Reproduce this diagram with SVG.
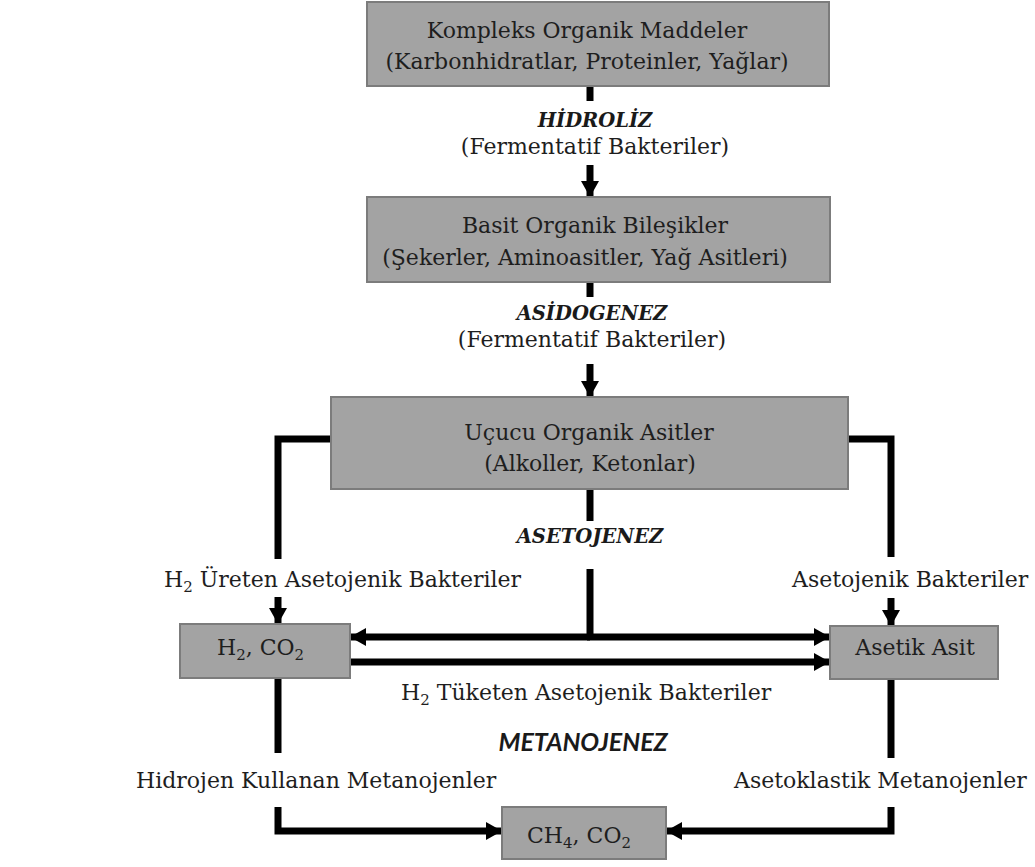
<svg xmlns="http://www.w3.org/2000/svg" width="1035" height="867" viewBox="0 0 1035 867">
<style>
.box{fill:#a3a3a3;stroke:#7c7c7c;stroke-width:2}
.t{font-family:"DejaVu Serif","Liberation Serif",serif;font-size:22px;fill:#1e1e1e}
.h{font-family:"DejaVu Serif","Liberation Serif",serif;font-size:19.5px;font-weight:bold;font-style:italic;fill:#1a1a1a}
.hs{font-family:Lato,"Open Sans",sans-serif;font-size:25px;font-weight:bold;font-style:italic;fill:#1a1a1a}
.c{text-anchor:middle}
.ln{fill:none;stroke:#000;stroke-width:7;stroke-linejoin:miter;stroke-linecap:butt}
.sub{font-size:15px}
</style>
<defs>
<marker id="ah" markerUnits="userSpaceOnUse" markerWidth="18" markerHeight="20" refX="16" refY="10" orient="auto">
<path d="M0,1 L16,10 L0,19 Z" fill="#000"/>
</marker>
</defs>
<g id="connectors">
<line class="ln" x1="590" y1="86" x2="590" y2="101"/>
<line class="ln" x1="590" y1="165" x2="590" y2="197" marker-end="url(#ah)"/>
<line class="ln" x1="590" y1="282" x2="590" y2="297"/>
<line class="ln" x1="590" y1="364" x2="590" y2="397" marker-end="url(#ah)"/>
<polyline class="ln" points="331,439 278,439 278,559"/>
<line class="ln" x1="278" y1="597" x2="278" y2="624" marker-end="url(#ah)"/>
<polyline class="ln" points="848,439 891,439 891,557"/>
<line class="ln" x1="891" y1="598" x2="891" y2="626" marker-end="url(#ah)"/>
<line class="ln" x1="590" y1="489" x2="590" y2="521"/>
<line class="ln" x1="590" y1="569" x2="590" y2="637"/>
<line class="ln" x1="590" y1="637" x2="350" y2="637" marker-end="url(#ah)"/>
<line class="ln" x1="587" y1="637" x2="830" y2="637" marker-end="url(#ah)"/>
<line class="ln" x1="350" y1="662" x2="830" y2="662" marker-end="url(#ah)"/>
<line class="ln" x1="278" y1="678" x2="278" y2="753"/>
<polyline class="ln" points="278,807 278,831 502,831" marker-end="url(#ah)"/>
<line class="ln" x1="891" y1="679" x2="891" y2="758"/>
<polyline class="ln" points="891,807 891,831 666,831" marker-end="url(#ah)"/>
</g>
<g id="n1">
<rect class="box" x="367" y="2" width="462" height="84"/>
<text class="t c" x="587" y="38">Kompleks Organik Maddeler</text>
<text class="t c" x="587" y="69">(Karbonhidratlar, Proteinler, Yağlar)</text>
</g>
<g id="l1">
<text class="h c" x="595" y="127">HİDROLİZ</text>
<text class="t c" x="595" y="154">(Fermentatif Bakteriler)</text>
</g>
<g id="n2">
<rect class="box" x="367" y="197" width="463" height="85"/>
<text class="t c" x="595" y="233">Basit Organik Bileşikler</text>
<text class="t c" x="585" y="265">(Şekerler, Aminoasitler, Yağ Asitleri)</text>
</g>
<g id="l2">
<text class="h c" x="592" y="320">ASİDOGENEZ</text>
<text class="t c" x="592" y="347">(Fermentatif Bakteriler)</text>
</g>
<g id="n3">
<rect class="box" x="331" y="397" width="517" height="92"/>
<text class="t c" x="589" y="440">Uçucu Organik Asitler</text>
<text class="t c" x="590" y="471">(Alkoller, Ketonlar)</text>
</g>
<g id="l3">
<text class="h c" x="590" y="543">ASETOJENEZ</text>
<text class="t" x="164" y="587">H<tspan class="sub" dy="5">2</tspan><tspan dy="-5"> Üreten Asetojenik Bakteriler</tspan></text>
<text class="t" x="792" y="587">Asetojenik Bakteriler</text>
<text class="t" x="401" y="700">H<tspan class="sub" dy="5">2</tspan><tspan dy="-5"> Tüketen Asetojenik Bakteriler</tspan></text>
</g>
<g id="n4">
<rect class="box" x="180" y="624" width="170" height="54"/>
<text class="t" x="217" y="655">H<tspan class="sub" dy="5">2</tspan><tspan dy="-5">, CO</tspan><tspan class="sub" dy="5">2</tspan></text>
</g>
<g id="n5">
<rect class="box" x="830" y="626" width="168" height="53"/>
<text class="t c" x="915" y="655">Asetik Asit</text>
</g>
<g id="l4">
<text class="hs c" x="583" y="751">METANOJENEZ</text>
<text class="t" x="136" y="788">Hidrojen Kullanan Metanojenler</text>
<text class="t" x="734" y="788">Asetoklastik Metanojenler</text>
</g>
<g id="n6">
<rect class="box" x="502" y="807" width="164" height="52"/>
<text class="t" x="527" y="843">CH<tspan class="sub" dy="5">4</tspan><tspan dy="-5">, CO</tspan><tspan class="sub" dy="5">2</tspan></text>
</g>
</svg>
